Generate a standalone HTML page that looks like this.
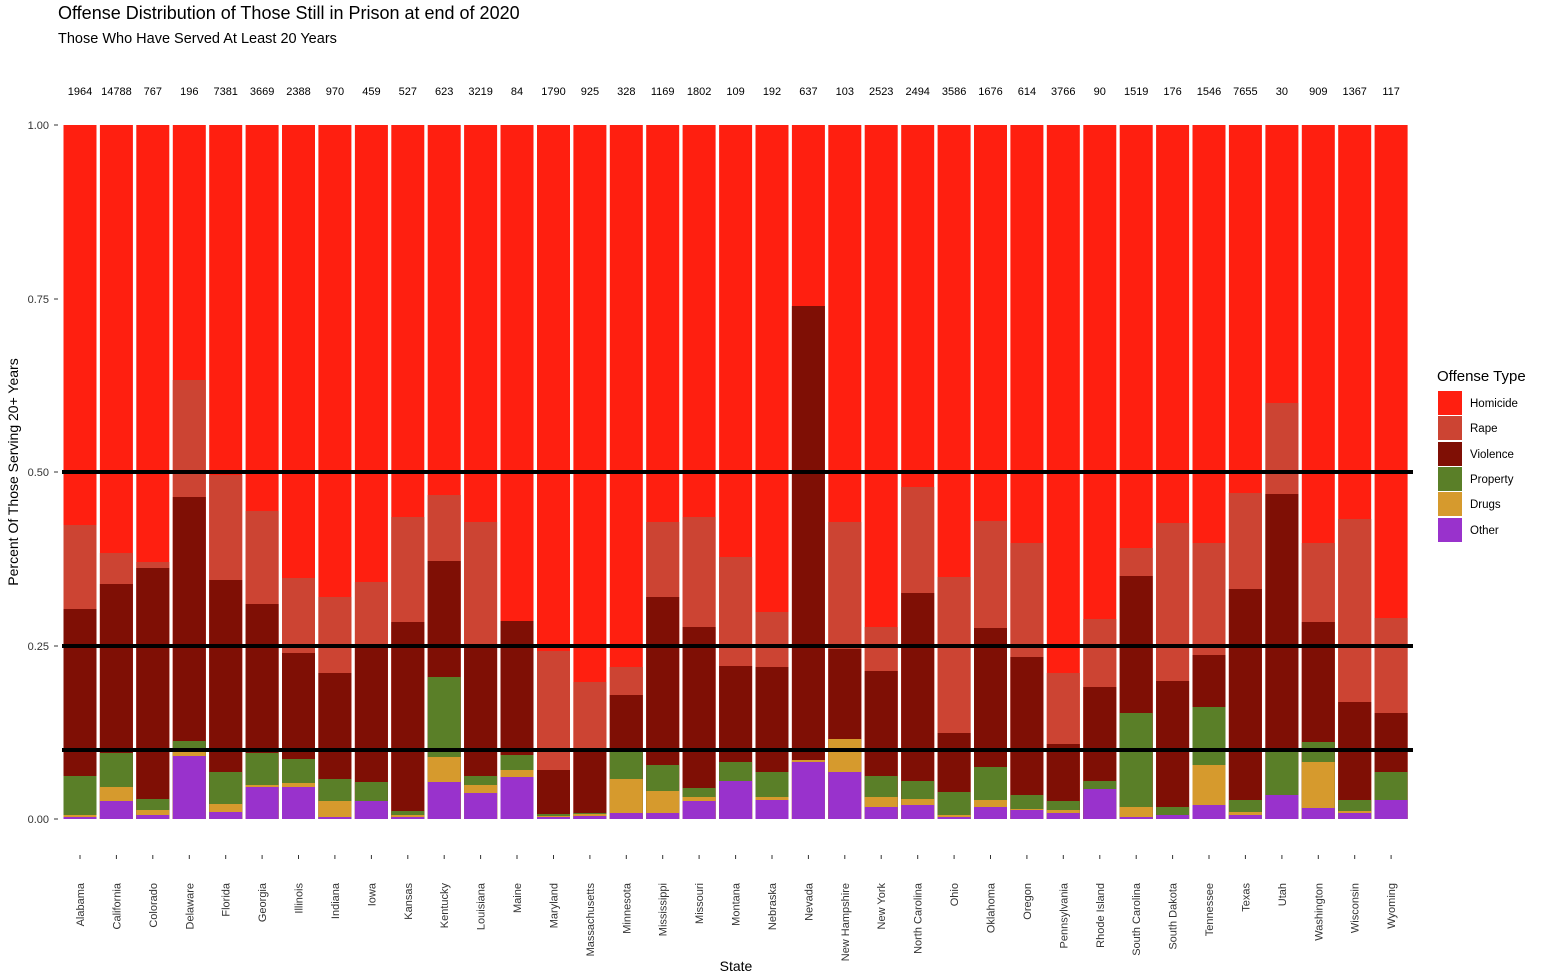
<!DOCTYPE html>
<html><head><meta charset="utf-8"><style>
html,body{margin:0;padding:0;background:#fff;}
svg{display:block;font-family:"Liberation Sans",Arial,sans-serif;}
.h{fill:#ff1f10}.r{fill:#cc4433}.v{fill:#7f0f05}.p{fill:#5a7f28}.d{fill:#d69a2d}.o{fill:#9932cc}
</style></head><body>
<svg width="1545" height="978" xmlns="http://www.w3.org/2000/svg">
<rect width="1545" height="978" fill="#fff"/>
<text x="58" y="19" font-size="18" fill="#000">Offense Distribution of Those Still in Prison at end of 2020</text>
<text x="58" y="43" font-size="14.5" fill="#000">Those Who Have Served At Least 20 Years</text>
<g>
<g transform="translate(63.5,0)"><rect class="h" width="33" y="125" height="694"/><rect class="r" width="33" y="525" height="294"/><rect class="v" width="33" y="609" height="210"/><rect class="p" width="33" y="776" height="43"/><rect class="d" width="33" y="815" height="4"/><rect class="o" width="33" y="817" height="2"/></g>
<g transform="translate(99.9,0)"><rect class="h" width="33" y="125" height="694"/><rect class="r" width="33" y="553" height="266"/><rect class="v" width="33" y="584" height="235"/><rect class="p" width="33" y="753" height="66"/><rect class="d" width="33" y="787" height="32"/><rect class="o" width="33" y="801" height="18"/></g>
<g transform="translate(136.3,0)"><rect class="h" width="33" y="125" height="694"/><rect class="r" width="33" y="562" height="257"/><rect class="v" width="33" y="568" height="251"/><rect class="p" width="33" y="799" height="20"/><rect class="d" width="33" y="810" height="9"/><rect class="o" width="33" y="815" height="4"/></g>
<g transform="translate(172.8,0)"><rect class="h" width="33" y="125" height="694"/><rect class="r" width="33" y="380" height="439"/><rect class="v" width="33" y="497" height="322"/><rect class="p" width="33" y="741" height="78"/><rect class="d" width="33" y="752" height="67"/><rect class="o" width="33" y="756" height="63"/></g>
<g transform="translate(209.2,0)"><rect class="h" width="33" y="125" height="694"/><rect class="r" width="33" y="475" height="344"/><rect class="v" width="33" y="580" height="239"/><rect class="p" width="33" y="772" height="47"/><rect class="d" width="33" y="804" height="15"/><rect class="o" width="33" y="812" height="7"/></g>
<g transform="translate(245.6,0)"><rect class="h" width="33" y="125" height="694"/><rect class="r" width="33" y="511" height="308"/><rect class="v" width="33" y="604" height="215"/><rect class="p" width="33" y="753" height="66"/><rect class="d" width="33" y="785" height="34"/><rect class="o" width="33" y="787" height="32"/></g>
<g transform="translate(282.0,0)"><rect class="h" width="33" y="125" height="694"/><rect class="r" width="33" y="578" height="241"/><rect class="v" width="33" y="653" height="166"/><rect class="p" width="33" y="759" height="60"/><rect class="d" width="33" y="783" height="36"/><rect class="o" width="33" y="787" height="32"/></g>
<g transform="translate(318.4,0)"><rect class="h" width="33" y="125" height="694"/><rect class="r" width="33" y="597" height="222"/><rect class="v" width="33" y="673" height="146"/><rect class="p" width="33" y="779" height="40"/><rect class="d" width="33" y="801" height="18"/><rect class="o" width="33" y="817" height="2"/></g>
<g transform="translate(354.9,0)"><rect class="h" width="33" y="125" height="694"/><rect class="r" width="33" y="582" height="237"/><rect class="v" width="33" y="645" height="174"/><rect class="p" width="33" y="782" height="37"/><rect class="o" width="33" y="801" height="18"/></g>
<g transform="translate(391.3,0)"><rect class="h" width="33" y="125" height="694"/><rect class="r" width="33" y="517" height="302"/><rect class="v" width="33" y="622" height="197"/><rect class="p" width="33" y="811" height="8"/><rect class="d" width="33" y="815" height="4"/><rect class="o" width="33" y="817" height="2"/></g>
<g transform="translate(427.7,0)"><rect class="h" width="33" y="125" height="694"/><rect class="r" width="33" y="495" height="324"/><rect class="v" width="33" y="561" height="258"/><rect class="p" width="33" y="677" height="142"/><rect class="d" width="33" y="757" height="62"/><rect class="o" width="33" y="782" height="37"/></g>
<g transform="translate(464.1,0)"><rect class="h" width="33" y="125" height="694"/><rect class="r" width="33" y="522" height="297"/><rect class="v" width="33" y="648" height="171"/><rect class="p" width="33" y="776" height="43"/><rect class="d" width="33" y="785" height="34"/><rect class="o" width="33" y="793" height="26"/></g>
<g transform="translate(500.5,0)"><rect class="h" width="33" y="125" height="694"/><rect class="v" width="33" y="621" height="198"/><rect class="p" width="33" y="755" height="64"/><rect class="d" width="33" y="770" height="49"/><rect class="o" width="33" y="777" height="42"/></g>
<g transform="translate(537.0,0)"><rect class="h" width="33" y="125" height="694"/><rect class="r" width="33" y="651" height="168"/><rect class="v" width="33" y="770" height="49"/><rect class="p" width="33" y="814" height="5"/><rect class="d" width="33" y="816" height="3"/><rect class="o" width="33" y="817" height="2"/></g>
<g transform="translate(573.4,0)"><rect class="h" width="33" y="125" height="694"/><rect class="r" width="33" y="682" height="137"/><rect class="v" width="33" y="751" height="68"/><rect class="p" width="33" y="813" height="6"/><rect class="d" width="33" y="814" height="5"/><rect class="o" width="33" y="816" height="3"/></g>
<g transform="translate(609.8,0)"><rect class="h" width="33" y="125" height="694"/><rect class="r" width="33" y="667" height="152"/><rect class="v" width="33" y="695" height="124"/><rect class="p" width="33" y="752" height="67"/><rect class="d" width="33" y="779" height="40"/><rect class="o" width="33" y="813" height="6"/></g>
<g transform="translate(646.2,0)"><rect class="h" width="33" y="125" height="694"/><rect class="r" width="33" y="522" height="297"/><rect class="v" width="33" y="597" height="222"/><rect class="p" width="33" y="765" height="54"/><rect class="d" width="33" y="791" height="28"/><rect class="o" width="33" y="813" height="6"/></g>
<g transform="translate(682.6,0)"><rect class="h" width="33" y="125" height="694"/><rect class="r" width="33" y="517" height="302"/><rect class="v" width="33" y="627" height="192"/><rect class="p" width="33" y="788" height="31"/><rect class="d" width="33" y="797" height="22"/><rect class="o" width="33" y="801" height="18"/></g>
<g transform="translate(719.1,0)"><rect class="h" width="33" y="125" height="694"/><rect class="r" width="33" y="557" height="262"/><rect class="v" width="33" y="666" height="153"/><rect class="p" width="33" y="762" height="57"/><rect class="o" width="33" y="781" height="38"/></g>
<g transform="translate(755.5,0)"><rect class="h" width="33" y="125" height="694"/><rect class="r" width="33" y="612" height="207"/><rect class="v" width="33" y="667" height="152"/><rect class="p" width="33" y="772" height="47"/><rect class="d" width="33" y="797" height="22"/><rect class="o" width="33" y="800" height="19"/></g>
<g transform="translate(791.9,0)"><rect class="h" width="33" y="125" height="694"/><rect class="v" width="33" y="306" height="513"/><rect class="d" width="33" y="760" height="59"/><rect class="o" width="33" y="762" height="57"/></g>
<g transform="translate(828.3,0)"><rect class="h" width="33" y="125" height="694"/><rect class="r" width="33" y="522" height="297"/><rect class="v" width="33" y="649" height="170"/><rect class="d" width="33" y="739" height="80"/><rect class="o" width="33" y="772" height="47"/></g>
<g transform="translate(864.7,0)"><rect class="h" width="33" y="125" height="694"/><rect class="r" width="33" y="627" height="192"/><rect class="v" width="33" y="671" height="148"/><rect class="p" width="33" y="776" height="43"/><rect class="d" width="33" y="797" height="22"/><rect class="o" width="33" y="807" height="12"/></g>
<g transform="translate(901.2,0)"><rect class="h" width="33" y="125" height="694"/><rect class="r" width="33" y="487" height="332"/><rect class="v" width="33" y="593" height="226"/><rect class="p" width="33" y="781" height="38"/><rect class="d" width="33" y="799" height="20"/><rect class="o" width="33" y="805" height="14"/></g>
<g transform="translate(937.6,0)"><rect class="h" width="33" y="125" height="694"/><rect class="r" width="33" y="577" height="242"/><rect class="v" width="33" y="733" height="86"/><rect class="p" width="33" y="792" height="27"/><rect class="d" width="33" y="815" height="4"/><rect class="o" width="33" y="817" height="2"/></g>
<g transform="translate(974.0,0)"><rect class="h" width="33" y="125" height="694"/><rect class="r" width="33" y="521" height="298"/><rect class="v" width="33" y="628" height="191"/><rect class="p" width="33" y="767" height="52"/><rect class="d" width="33" y="800" height="19"/><rect class="o" width="33" y="807" height="12"/></g>
<g transform="translate(1010.4,0)"><rect class="h" width="33" y="125" height="694"/><rect class="r" width="33" y="543" height="276"/><rect class="v" width="33" y="657" height="162"/><rect class="p" width="33" y="795" height="24"/><rect class="d" width="33" y="809" height="10"/><rect class="o" width="33" y="810" height="9"/></g>
<g transform="translate(1046.8,0)"><rect class="h" width="33" y="125" height="694"/><rect class="r" width="33" y="673" height="146"/><rect class="v" width="33" y="744" height="75"/><rect class="p" width="33" y="801" height="18"/><rect class="d" width="33" y="810" height="9"/><rect class="o" width="33" y="813" height="6"/></g>
<g transform="translate(1083.3,0)"><rect class="h" width="33" y="125" height="694"/><rect class="r" width="33" y="619" height="200"/><rect class="v" width="33" y="687" height="132"/><rect class="p" width="33" y="781" height="38"/><rect class="o" width="33" y="789" height="30"/></g>
<g transform="translate(1119.7,0)"><rect class="h" width="33" y="125" height="694"/><rect class="r" width="33" y="548" height="271"/><rect class="v" width="33" y="576" height="243"/><rect class="p" width="33" y="713" height="106"/><rect class="d" width="33" y="807" height="12"/><rect class="o" width="33" y="817" height="2"/></g>
<g transform="translate(1156.1,0)"><rect class="h" width="33" y="125" height="694"/><rect class="r" width="33" y="523" height="296"/><rect class="v" width="33" y="681" height="138"/><rect class="p" width="33" y="807" height="12"/><rect class="o" width="33" y="815" height="4"/></g>
<g transform="translate(1192.5,0)"><rect class="h" width="33" y="125" height="694"/><rect class="r" width="33" y="543" height="276"/><rect class="v" width="33" y="655" height="164"/><rect class="p" width="33" y="707" height="112"/><rect class="d" width="33" y="765" height="54"/><rect class="o" width="33" y="805" height="14"/></g>
<g transform="translate(1228.9,0)"><rect class="h" width="33" y="125" height="694"/><rect class="r" width="33" y="493" height="326"/><rect class="v" width="33" y="589" height="230"/><rect class="p" width="33" y="800" height="19"/><rect class="d" width="33" y="812" height="7"/><rect class="o" width="33" y="815" height="4"/></g>
<g transform="translate(1265.4,0)"><rect class="h" width="33" y="125" height="694"/><rect class="r" width="33" y="403" height="416"/><rect class="v" width="33" y="494" height="325"/><rect class="p" width="33" y="750" height="69"/><rect class="o" width="33" y="795" height="24"/></g>
<g transform="translate(1301.8,0)"><rect class="h" width="33" y="125" height="694"/><rect class="r" width="33" y="543" height="276"/><rect class="v" width="33" y="622" height="197"/><rect class="p" width="33" y="742" height="77"/><rect class="d" width="33" y="762" height="57"/><rect class="o" width="33" y="808" height="11"/></g>
<g transform="translate(1338.2,0)"><rect class="h" width="33" y="125" height="694"/><rect class="r" width="33" y="519" height="300"/><rect class="v" width="33" y="702" height="117"/><rect class="p" width="33" y="800" height="19"/><rect class="d" width="33" y="811" height="8"/><rect class="o" width="33" y="813" height="6"/></g>
<g transform="translate(1374.6,0)"><rect class="h" width="33" y="125" height="694"/><rect class="r" width="33" y="618" height="201"/><rect class="v" width="33" y="713" height="106"/><rect class="p" width="33" y="772" height="47"/><rect class="o" width="33" y="800" height="19"/></g>
</g>
<g stroke="#000" stroke-width="4">
<line x1="62" x2="1413" y1="472" y2="472"/>
<line x1="62" x2="1413" y1="646" y2="646"/>
<line x1="62" x2="1413" y1="750" y2="750"/>
</g>
<g font-size="11" fill="#333" text-anchor="end">
<text x="49" y="129">1.00</text><text x="49" y="303">0.75</text><text x="49" y="476">0.50</text><text x="49" y="650">0.25</text><text x="49" y="823">0.00</text>
</g>
<g stroke="#333" stroke-width="1">
<line x1="54" x2="58" y1="125" y2="125"/><line x1="54" x2="58" y1="299" y2="299"/><line x1="54" x2="58" y1="472" y2="472"/><line x1="54" x2="58" y1="646" y2="646"/><line x1="54" x2="58" y1="819" y2="819"/>
</g>
<text transform="translate(18,472) rotate(-90)" font-size="14" text-anchor="middle" fill="#000">Percent Of Those Serving 20+ Years</text>
<text x="736" y="971" font-size="14" text-anchor="middle" fill="#000">State</text>
<g stroke="#333">
<line x1="80" x2="80" y1="855" y2="859"/><line x1="116.4" x2="116.4" y1="855" y2="859"/><line x1="152.8" x2="152.8" y1="855" y2="859"/><line x1="189.3" x2="189.3" y1="855" y2="859"/><line x1="225.7" x2="225.7" y1="855" y2="859"/><line x1="262.1" x2="262.1" y1="855" y2="859"/><line x1="298.5" x2="298.5" y1="855" y2="859"/><line x1="334.9" x2="334.9" y1="855" y2="859"/><line x1="371.4" x2="371.4" y1="855" y2="859"/><line x1="407.8" x2="407.8" y1="855" y2="859"/><line x1="444.2" x2="444.2" y1="855" y2="859"/><line x1="480.6" x2="480.6" y1="855" y2="859"/><line x1="517" x2="517" y1="855" y2="859"/><line x1="553.5" x2="553.5" y1="855" y2="859"/><line x1="589.9" x2="589.9" y1="855" y2="859"/><line x1="626.3" x2="626.3" y1="855" y2="859"/><line x1="662.7" x2="662.7" y1="855" y2="859"/><line x1="699.1" x2="699.1" y1="855" y2="859"/><line x1="735.6" x2="735.6" y1="855" y2="859"/><line x1="772" x2="772" y1="855" y2="859"/><line x1="808.4" x2="808.4" y1="855" y2="859"/><line x1="844.8" x2="844.8" y1="855" y2="859"/><line x1="881.2" x2="881.2" y1="855" y2="859"/><line x1="917.7" x2="917.7" y1="855" y2="859"/><line x1="954.1" x2="954.1" y1="855" y2="859"/><line x1="990.5" x2="990.5" y1="855" y2="859"/><line x1="1026.9" x2="1026.9" y1="855" y2="859"/><line x1="1063.3" x2="1063.3" y1="855" y2="859"/><line x1="1099.8" x2="1099.8" y1="855" y2="859"/><line x1="1136.2" x2="1136.2" y1="855" y2="859"/><line x1="1172.6" x2="1172.6" y1="855" y2="859"/><line x1="1209" x2="1209" y1="855" y2="859"/><line x1="1245.4" x2="1245.4" y1="855" y2="859"/><line x1="1281.9" x2="1281.9" y1="855" y2="859"/><line x1="1318.3" x2="1318.3" y1="855" y2="859"/><line x1="1354.7" x2="1354.7" y1="855" y2="859"/><line x1="1391.1" x2="1391.1" y1="855" y2="859"/>
</g>
<g font-size="11" text-anchor="middle" fill="#000">
<text x="80" y="95">1964</text><text x="116.4" y="95">14788</text><text x="152.8" y="95">767</text><text x="189.3" y="95">196</text><text x="225.7" y="95">7381</text><text x="262.1" y="95">3669</text><text x="298.5" y="95">2388</text><text x="334.9" y="95">970</text><text x="371.4" y="95">459</text><text x="407.8" y="95">527</text><text x="444.2" y="95">623</text><text x="480.6" y="95">3219</text><text x="517" y="95">84</text><text x="553.5" y="95">1790</text><text x="589.9" y="95">925</text><text x="626.3" y="95">328</text><text x="662.7" y="95">1169</text><text x="699.1" y="95">1802</text><text x="735.6" y="95">109</text><text x="772" y="95">192</text><text x="808.4" y="95">637</text><text x="844.8" y="95">103</text><text x="881.2" y="95">2523</text><text x="917.7" y="95">2494</text><text x="954.1" y="95">3586</text><text x="990.5" y="95">1676</text><text x="1026.9" y="95">614</text><text x="1063.3" y="95">3766</text><text x="1099.8" y="95">90</text><text x="1136.2" y="95">1519</text><text x="1172.6" y="95">176</text><text x="1209" y="95">1546</text><text x="1245.4" y="95">7655</text><text x="1281.9" y="95">30</text><text x="1318.3" y="95">909</text><text x="1354.7" y="95">1367</text><text x="1391.1" y="95">117</text>
</g>
<g font-size="11" text-anchor="end" fill="#333">
<text transform="translate(84,883) rotate(-90)">Alabama</text>
<text transform="translate(120.4,883) rotate(-90)">California</text>
<text transform="translate(156.8,883) rotate(-90)">Colorado</text>
<text transform="translate(193.3,883) rotate(-90)">Delaware</text>
<text transform="translate(229.7,883) rotate(-90)">Florida</text>
<text transform="translate(266.1,883) rotate(-90)">Georgia</text>
<text transform="translate(302.5,883) rotate(-90)">Illinois</text>
<text transform="translate(338.9,883) rotate(-90)">Indiana</text>
<text transform="translate(375.4,883) rotate(-90)">Iowa</text>
<text transform="translate(411.8,883) rotate(-90)">Kansas</text>
<text transform="translate(448.2,883) rotate(-90)">Kentucky</text>
<text transform="translate(484.6,883) rotate(-90)">Louisiana</text>
<text transform="translate(521,883) rotate(-90)">Maine</text>
<text transform="translate(557.5,883) rotate(-90)">Maryland</text>
<text transform="translate(593.9,883) rotate(-90)">Massachusetts</text>
<text transform="translate(630.3,883) rotate(-90)">Minnesota</text>
<text transform="translate(666.7,883) rotate(-90)">Mississippi</text>
<text transform="translate(703.1,883) rotate(-90)">Missouri</text>
<text transform="translate(739.6,883) rotate(-90)">Montana</text>
<text transform="translate(776,883) rotate(-90)">Nebraska</text>
<text transform="translate(812.4,883) rotate(-90)">Nevada</text>
<text transform="translate(848.8,883) rotate(-90)">New Hampshire</text>
<text transform="translate(885.2,883) rotate(-90)">New York</text>
<text transform="translate(921.7,883) rotate(-90)">North Carolina</text>
<text transform="translate(958.1,883) rotate(-90)">Ohio</text>
<text transform="translate(994.5,883) rotate(-90)">Oklahoma</text>
<text transform="translate(1030.9,883) rotate(-90)">Oregon</text>
<text transform="translate(1067.3,883) rotate(-90)">Pennsylvania</text>
<text transform="translate(1103.8,883) rotate(-90)">Rhode Island</text>
<text transform="translate(1140.2,883) rotate(-90)">South Carolina</text>
<text transform="translate(1176.6,883) rotate(-90)">South Dakota</text>
<text transform="translate(1213,883) rotate(-90)">Tennessee</text>
<text transform="translate(1249.4,883) rotate(-90)">Texas</text>
<text transform="translate(1285.9,883) rotate(-90)">Utah</text>
<text transform="translate(1322.3,883) rotate(-90)">Washington</text>
<text transform="translate(1358.7,883) rotate(-90)">Wisconsin</text>
<text transform="translate(1395.1,883) rotate(-90)">Wyoming</text>
</g>
<text x="1437" y="381" font-size="15" fill="#000">Offense Type</text>
<g>
<rect x="1438" y="391" width="24" height="24" class="h"/>
<rect x="1438" y="416" width="24" height="24" class="r"/>
<rect x="1438" y="442" width="24" height="24" class="v"/>
<rect x="1438" y="467" width="24" height="24" class="p"/>
<rect x="1438" y="492" width="24" height="24" class="d"/>
<rect x="1438" y="518" width="24" height="24" class="o"/>
</g>
<g font-size="11.5" fill="#000">
<text x="1470" y="407">Homicide</text><text x="1470" y="432">Rape</text><text x="1470" y="458">Violence</text><text x="1470" y="483">Property</text><text x="1470" y="508">Drugs</text><text x="1470" y="534">Other</text>
</g>
</svg>
</body></html>
